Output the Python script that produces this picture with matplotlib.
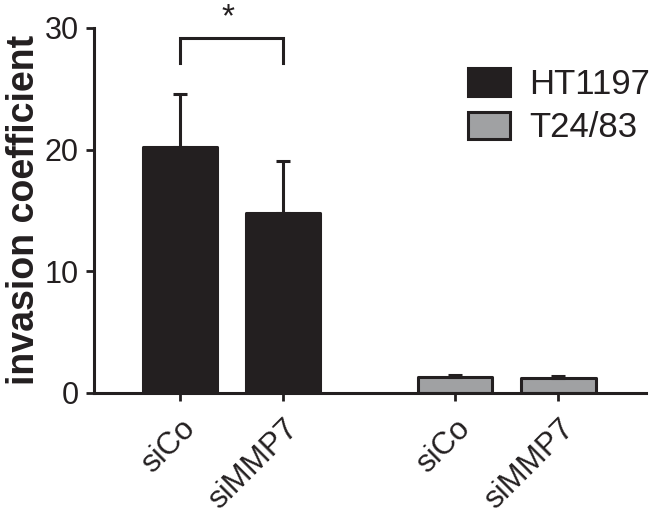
import matplotlib
matplotlib.use('Agg')
import matplotlib.pyplot as plt
from matplotlib.patches import Patch

# data
groups = ['HT1197', 'T24/83']
tick_labels = ['siCo', 'siMMP7', 'siCo', 'siMMP7']
ht_means = [20.2, 14.8]
ht_err = [4.4, 4.3]
t24_means = [1.3, 1.2]
t24_err = [0.15, 0.2]

plt.rcParams['font.family'] = ['Liberation Sans', 'DejaVu Sans']

dark = '#231f20'
grey = '#a0a1a3'

fig = plt.figure(figsize=(6.56, 5.17), dpi=100)
ax = fig.add_axes([0.143, 0.240, 0.842, 0.706])

x_ht = [0, 1]
x_t24 = [2.67, 3.67]
w = 0.72

ax.bar(x_ht, ht_means, width=w, color=dark, edgecolor=dark, linewidth=2.2,
       yerr=[[0, 0], ht_err], capsize=4.7,
       error_kw=dict(elinewidth=2.2, capthick=2.2, ecolor=dark),
       label=groups[0], joinstyle='round')
ax.bar(x_t24, t24_means, width=w, color=grey, edgecolor=dark, linewidth=2.2,
       yerr=[[0, 0], t24_err], capsize=4.7,
       error_kw=dict(elinewidth=2.2, capthick=2.2, ecolor=dark),
       label=groups[1], joinstyle='round')

ax.set_ylim(0, 30)
ax.set_xlim(-0.835, 4.52)
ax.set_yticks([0, 10, 20, 30])
ax.set_xticks(x_ht + x_t24)
ax.set_xticklabels(tick_labels, rotation=45, ha='right', rotation_mode='anchor')

for s in ['top', 'right']:
    ax.spines[s].set_visible(False)
for s in ['left', 'bottom']:
    ax.spines[s].set_linewidth(2.2)
    ax.spines[s].set_color(dark)
ax.tick_params(axis='both', width=2.0, length=6, color=dark, labelsize=22,
               labelcolor=dark, pad=5)
ax.tick_params(axis='x', labelsize=22.5, pad=9)

ax.set_ylabel('invasion coefficient', fontsize=27, fontweight='bold',
              color=dark, labelpad=2)

# significance bracket
ax.plot([0, 0, 1, 1], [27.1, 29.2, 29.2, 27.1], color=dark, lw=2.2,
        clip_on=False, solid_joinstyle='miter')
ax.text(0.47, 32.1, '*', ha='center', va='top', fontsize=24, color=dark,
        clip_on=False)

handles = [Patch(facecolor=dark, edgecolor=dark, linewidth=2.2, joinstyle='round'),
           Patch(facecolor=grey, edgecolor=dark, linewidth=2.2, joinstyle='round')]
fig.legend(handles, groups, loc='upper left',
           bbox_to_anchor=(468 / 656, 1 - 68 / 517), frameon=False,
           fontsize=25, handlelength=1.2, handleheight=0.85,
           handletextpad=0.55, labelspacing=0.3, borderpad=0, borderaxespad=0,
           labelcolor=dark)

fig.savefig('out.png', dpi=100)
